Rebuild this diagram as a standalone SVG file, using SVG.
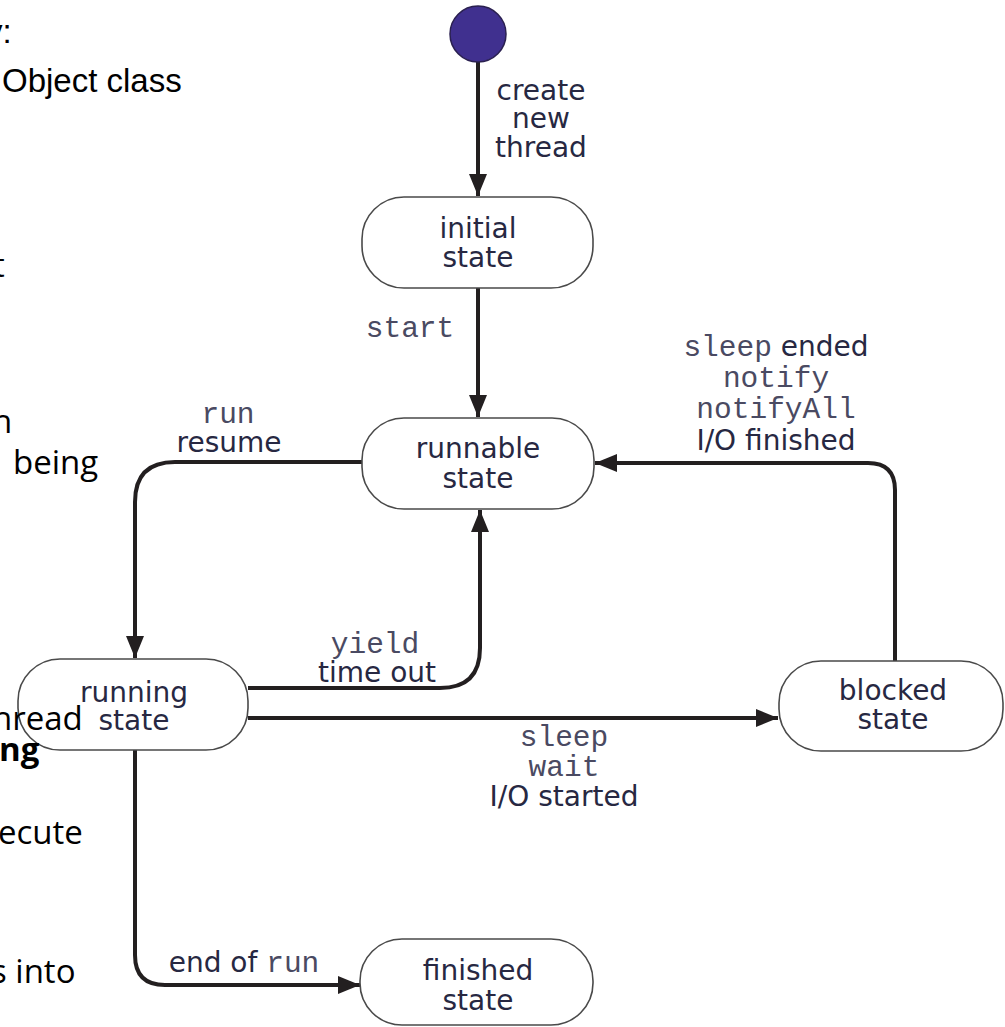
<svg xmlns="http://www.w3.org/2000/svg" width="1005" height="1027" viewBox="0 0 1005 1027">
<style>
.node rect{fill:#fff;stroke:#4a4a4a;stroke-width:1.6}
.lbl{font-family:"DejaVu Sans",Verdana,sans-serif;font-size:28px;fill:#272842;text-anchor:middle}
.mono{font-family:"Liberation Mono","Courier New",monospace;font-size:29.5px;fill:#4a4a62;text-anchor:middle}
.monoin{font-family:"Liberation Mono","Courier New",monospace;font-size:29.5px;fill:#4a4a62}
.conn path{fill:none;stroke:#231f20;stroke-width:4}
.slide{font-family:"Open Sans","Noto Sans",sans-serif;font-size:33px;fill:#000}
.arial{font-family:"Liberation Sans",Arial,sans-serif;font-size:33px;fill:#000}
</style>
<defs>
<marker id="arr" viewBox="0 0 22 18" refX="22" refY="9" markerWidth="22" markerHeight="18" markerUnits="userSpaceOnUse" orient="auto">
<path d="M0,0 L22,9 L0,18 Z" fill="#231f20"/>
</marker>
</defs>
<g id="connectors" class="conn">
<path d="M478,62 V196" marker-end="url(#arr)"/>
<path d="M478,288 V417" marker-end="url(#arr)"/>
<path d="M362,462 H175 Q135,462 135,502 V658" marker-end="url(#arr)"/>
<path d="M248,688 H440 Q480,688 480,648 V510" marker-end="url(#arr)"/>
<path d="M248,718 H778" marker-end="url(#arr)"/>
<path d="M895,661 V490 Q895,463 868,463 H595" marker-end="url(#arr)"/>
<path d="M135,750 V955 Q135,985 165,985 H360" marker-end="url(#arr)"/>
</g>
<g id="labels">
<text class="lbl" x="541" y="100">create</text>
<text class="lbl" x="541" y="128">new</text>
<text class="lbl" x="541" y="157">thread</text>
<text class="mono" x="410" y="337">start</text>
<text class="mono" x="228" y="423">run</text>
<text class="lbl" x="229" y="452">resume</text>
<text class="mono" x="375" y="653">yield</text>
<text class="lbl" x="377" y="682">time out</text>
<text class="mono" x="564" y="746">sleep</text>
<text class="mono" x="564" y="776">wait</text>
<text class="lbl" x="564" y="806">I/O started</text>
<text class="lbl" x="776" y="356"><tspan class="monoin">sleep</tspan> ended</text>
<text class="mono" x="776" y="387">notify</text>
<text class="mono" x="776" y="418">notifyAll</text>
<text class="lbl" x="776" y="450">I/O finished</text>
<text class="lbl" x="244" y="972">end of <tspan class="monoin">run</tspan></text>
</g>
<g id="start-node">
<circle cx="478" cy="34" r="28" fill="#40308f" stroke="#2a2050" stroke-width="1.5"/>
</g>
<g id="initial-state" class="node">
<rect x="362" y="197" width="231" height="91" rx="42" ry="42"/>
<text class="lbl" x="478" y="238">initial</text>
<text class="lbl" x="478" y="267">state</text>
</g>
<g id="runnable-state" class="node">
<rect x="362" y="418" width="232" height="91" rx="42" ry="42"/>
<text class="lbl" x="478" y="458">runnable</text>
<text class="lbl" x="478" y="488">state</text>
</g>
<g id="running-state" class="node">
<rect x="18" y="659" width="230" height="91" rx="42" ry="42"/>
<text class="lbl" x="134" y="702">running</text>
<text class="lbl" x="134" y="730">state</text>
</g>
<g id="blocked-state" class="node">
<rect x="779" y="661" width="224" height="90" rx="42" ry="42"/>
<text class="lbl" x="893" y="700">blocked</text>
<text class="lbl" x="893" y="729">state</text>
</g>
<g id="finished-state" class="node">
<rect x="360" y="939" width="233" height="86" rx="42" ry="42"/>
<text class="lbl" x="478" y="980">finished</text>
<text class="lbl" x="478" y="1010">state</text>
</g>
<g id="slide-text">
<text class="arial" x="-14" y="43">y:</text>
<text class="arial" x="2" y="92">Object class</text>
<text class="slide" x="-7" y="277">t</text>
<text class="slide" x="-8" y="433">n</text>
<text class="slide" x="13" y="474">being</text>
<text class="slide" x="-8" y="730">hread</text>
<text class="slide" x="-1" y="761" font-weight="bold">ng</text>
<text class="slide" x="-2" y="844">ecute</text>
<text class="slide" x="-9" y="983">s into</text>
</g>
</svg>
